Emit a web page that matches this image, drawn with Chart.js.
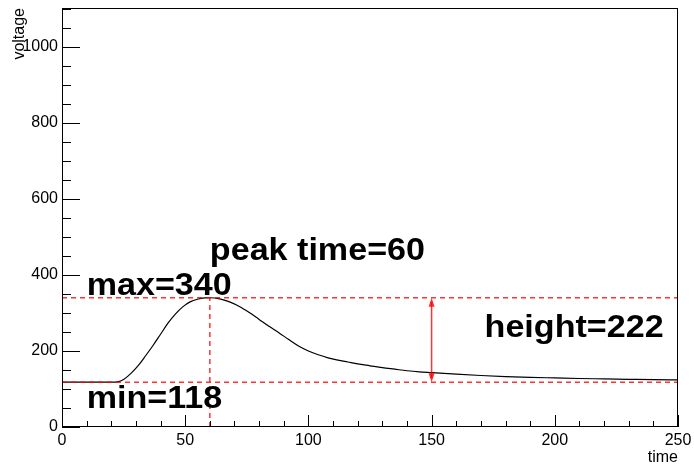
<!DOCTYPE html>
<html>
<head>
<meta charset="utf-8">
<script src="https://cdn.jsdelivr.net/npm/chart.js@4.4.1/dist/chart.umd.min.js"></script>
<style>
  html, body { margin: 0; padding: 0; background: #fff; }
</style>
</head>
<body>
<canvas id="chart" width="694" height="468"></canvas>
<script>
// pulse
const times = [0, 5, 10, 15, 20, 23, 25, 28, 31, 34, 37, 40, 43, 46, 49, 52, 55, 58, 60, 64, 68, 72, 76, 80, 84, 88, 92, 96, 100, 104, 108, 112, 116, 120, 125, 130, 135, 140, 145, 150, 160, 170, 180, 190, 200, 210, 220, 230, 240, 250];
const voltages = [118, 118, 118, 118, 118, 119.5, 125, 141, 162, 188, 215, 244, 273, 297, 316, 329, 336, 339.5, 340, 337, 329, 317, 301, 283, 265, 248, 230, 213, 200, 190, 182, 176, 171, 166, 161, 156, 152, 148, 145, 143, 139, 135.5, 132.5, 130.5, 129, 127.5, 126.5, 125.5, 124.5, 124];

// results of the pulse analysis
const peakTime = 60;
const maxVoltage = 340;
const minVoltage = 118;
const pulseHeight = maxVoltage - minVoltage;
const arrowTime = 150;

// axis ranges
const xRange = [0, 250];
const yRange = [0, 1102];

// labels, anchored in data units (left / baseline)
const notes = [
  { text: "peak time=" + peakTime, x: 60, y: 440 },
  { text: "max=" + maxVoltage, x: 10, y: 347 },
  { text: "min=" + minVoltage, x: 10, y: 50 },
  { text: "height=" + pulseHeight, x: 171.5, y: 237 },
];

const pts = times.map((t, i) => ({ x: t, y: voltages[i] }));

const red = "rgba(255,0,0,0.8)";
const dashed = {
  borderColor: red,
  borderWidth: 1.5,
  borderDash: [5, 4],
  pointRadius: 0,
  fill: false,
};

const tickFont = { family: "'Liberation Sans', Arial, sans-serif", size: 16 };

const rootFrame = {
  id: "rootFrame",
  afterDraw(chart) {
    const ctx = chart.ctx;
    const xs = chart.scales.x, ys = chart.scales.y;
    const a = chart.chartArea;
    ctx.save();

    // arrow between min and max
    const ax = xs.getPixelForValue(arrowTime);
    const top = ys.getPixelForValue(maxVoltage);
    const bot = ys.getPixelForValue(minVoltage);
    ctx.strokeStyle = red;
    ctx.fillStyle = red;
    ctx.lineWidth = 1.5;
    ctx.beginPath();
    ctx.moveTo(ax, top + 4);
    ctx.lineTo(ax, bot - 4);
    ctx.stroke();
    ctx.beginPath();
    ctx.moveTo(ax, top);
    ctx.lineTo(ax - 3, top + 9);
    ctx.lineTo(ax + 3, top + 9);
    ctx.closePath();
    ctx.fill();
    ctx.beginPath();
    ctx.moveTo(ax, bot);
    ctx.lineTo(ax - 3, bot - 9);
    ctx.lineTo(ax + 3, bot - 9);
    ctx.closePath();
    ctx.fill();

    // frame
    ctx.strokeStyle = "#000";
    ctx.lineWidth = 1;
    ctx.strokeRect(Math.round(a.left) + 0.5, Math.round(a.top) + 0.5,
      Math.round(a.right - a.left) - 1, Math.round(a.bottom - a.top) - 1);

    // inward ticks
    ctx.beginPath();
    for (let v = xRange[0]; v <= xRange[1]; v += 10) {
      const px = Math.round(xs.getPixelForValue(v)) + 0.5;
      const len = v % 50 === 0 ? 12 : 6;
      ctx.moveTo(px, a.bottom);
      ctx.lineTo(px, a.bottom - len);
    }
    for (let v = 0; v <= yRange[1]; v += 50) {
      const py = Math.round(ys.getPixelForValue(v)) + 0.5;
      const len = v % 200 === 0 ? 18 : 9;
      ctx.moveTo(a.left, py);
      ctx.lineTo(a.left + len, py);
    }
    ctx.stroke();

    // annotations, slightly stretched like the ROOT bold font
    ctx.fillStyle = "#000";
    ctx.font = "bold 31px 'Liberation Sans', Arial, sans-serif";
    ctx.textAlign = "left";
    ctx.textBaseline = "alphabetic";
    notes.forEach(n => {
      ctx.save();
      ctx.translate(xs.getPixelForValue(n.x), ys.getPixelForValue(n.y));
      ctx.scale(1.1, 1);
      ctx.fillText(n.text, 0, 0);
      ctx.restore();
    });

    // axis titles at the far ends, ROOT style
    ctx.font = "16px 'Liberation Sans', Arial, sans-serif";
    ctx.textAlign = "right";
    ctx.fillText("time", a.right, 462);
    ctx.translate(24, a.top);
    ctx.rotate(-Math.PI / 2);
    ctx.fillText("voltage", 0, 0);
    ctx.restore();
  },
};

new Chart(document.getElementById("chart"), {
  type: "line",
  data: {
    datasets: [
      { ...dashed, data: [{ x: xRange[0], y: maxVoltage }, { x: xRange[1], y: maxVoltage }] },
      { ...dashed, data: [{ x: xRange[0], y: minVoltage }, { x: xRange[1], y: minVoltage }] },
      { ...dashed, data: [{ x: peakTime, y: 0 }, { x: peakTime, y: maxVoltage }] },
      {
        data: pts,
        borderColor: "#000",
        borderWidth: 1.2,
        pointRadius: 0,
        cubicInterpolationMode: "monotone",
        fill: false,
      },
    ],
  },
  options: {
    responsive: false,
    animation: false,
    layout: { padding: { top: 8, right: 16, left: 0, bottom: 0 } },
    plugins: { legend: { display: false }, tooltip: { enabled: false } },
    scales: {
      x: {
        type: "linear",
        min: xRange[0],
        max: xRange[1],
        grid: { display: false, drawTicks: false },
        border: { display: false },
        ticks: {
          stepSize: 50,
          padding: 4,
          color: "#000",
          maxRotation: 0,
          font: tickFont,
          callback: v => String(v),
        },
        afterFit: s => { s.height = 41; s.paddingLeft = 0; s.paddingRight = 0; },
      },
      y: {
        type: "linear",
        min: yRange[0],
        max: yRange[1],
        grid: { display: false, drawTicks: false },
        border: { display: false },
        ticks: {
          stepSize: 200,
          includeBounds: false,
          padding: 4,
          color: "#000",
          font: tickFont,
          callback: v => String(v),
        },
        afterFit: s => { s.width = 62; s.paddingTop = 0; s.paddingBottom = 0; },
      },
    },
  },
  plugins: [rootFrame],
});
</script>
</body>
</html>
